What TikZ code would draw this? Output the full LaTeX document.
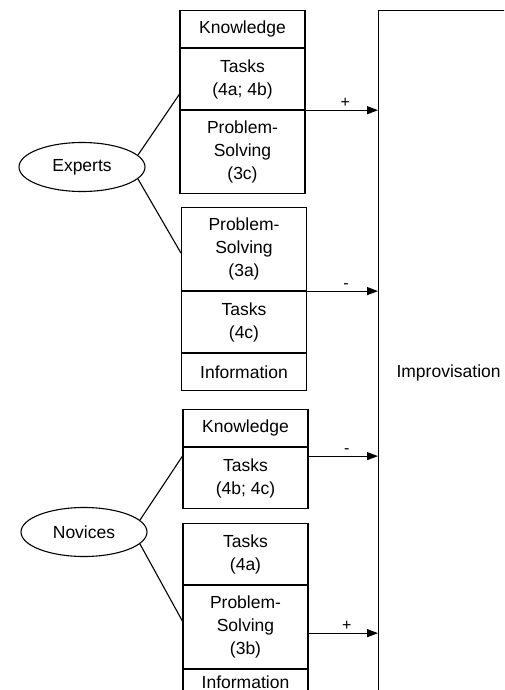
\documentclass[tikz,border=0pt]{standalone}
\usepackage{fontspec}
\setmainfont{Liberation Sans}
\usetikzlibrary{positioning,shapes.geometric,arrows.meta}

\tikzset{every picture/.style={line width=1.1pt}}
\tikzset{
  cell/.style={draw, rectangle, minimum width=125, inner sep=0pt, align=center,
    font=\fontsize{17.5}{23}\selectfont},
  onerow/.style={cell, minimum height=37},
  tworow/.style={cell, minimum height=61},
  threerow/.style={cell, minimum height=83},
  group/.style={draw, ellipse, minimum width=126, minimum height=49, inner sep=0pt,
    font=\fontsize{17.5}{23}\selectfont},
  sign/.style={above, inner sep=2pt, font=\fontsize{16}{16}\selectfont},
  link/.style={-{Triangle[length=11pt,width=8pt]}}
}

\begin{document}
\begin{tikzpicture}[x=1pt,y=1pt,yscale=-1,xscale=1]
	\useasboundingbox (0,0) rectangle (504,690);
	\clip (0,0) rectangle (504,690);

	%Shape: Improvisation box
	\node [draw, anchor=north west, minimum width=300, minimum height=800] (impro) at (378,10) {};
	\node [anchor=west, inner sep=0pt, font=\fontsize{17.5}{23}\selectfont] (improlabel) at (396,373) {Improvisation};

	%Experts, first stack
	\node [onerow, anchor=north] (ek) at (242.5,10) {Knowledge};
	\node [tworow, below=0pt of ek] (et1) {Tasks\\(4a; 4b)};
	\node [threerow, below=0pt of et1] (eps1) {Problem-\\Solving\\(3c)};
	%Experts, second stack
	\node [threerow, anchor=north] (eps2) at (244,207) {Problem-\\Solving\\(3a)};
	\node [tworow, below=0pt of eps2] (et2) {Tasks\\(4c)};
	\node [onerow, below=0pt of et2] (ei) {Information};

	%Novices, first stack
	\node [onerow, anchor=north] (nk) at (245.5,409) {Knowledge};
	\node [tworow, below=0pt of nk] (nt1) {Tasks\\(4b; 4c)};
	%Novices, second stack
	\node [tworow, anchor=north] (nt2) at (245.5,523) {Tasks\\(4a)};
	\node [threerow, below=0pt of nt2] (nps) {Problem-\\Solving\\(3b)};
	\node [onerow, minimum height=25, below=0pt of nps] (ni) {Information};

	%Shape: Ellipses
	\node [group] (experts) at (82,167) {Experts};
	\node [group] (novices) at (84,532) {Novices};

	%Straight Lines
	\draw (experts.12) -- ([yshift=15pt]et1.west);
	\draw (experts.-12) -- ([yshift=4pt]eps2.west);
	\draw (novices.12) -- ([yshift=-22pt]nt1.west);
	\draw (novices.-12) -- ([yshift=-6pt]nps.west);

	%Arrows into Improvisation
	\draw [link] (eps1.north east) -- node [sign, pos=0.55] {+} (eps1.north east -| impro.west);
	\draw [link] (et2.north east) -- node [sign, pos=0.55] {-} (et2.north east -| impro.west);
	\draw [link] ([yshift=9pt]nt1.north east) -- node [sign, pos=0.55] {-} ([yshift=9pt]nt1.north east -| impro.west);
	\draw [link] ([yshift=6pt]nps.east) -- node [sign, pos=0.55] {+} ([yshift=6pt]nps.east -| impro.west);

\end{tikzpicture}
\end{document}
